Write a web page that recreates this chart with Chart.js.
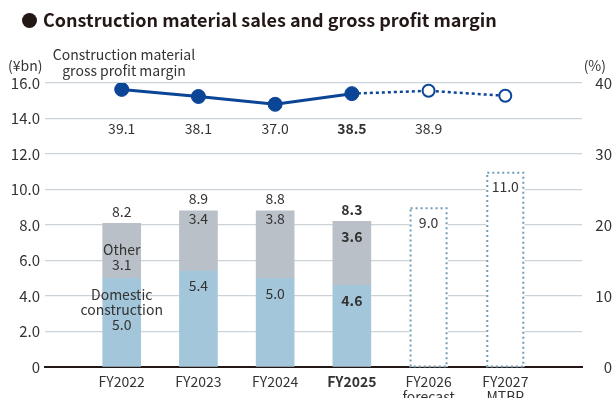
<!DOCTYPE html>
<html>
<head>
<meta charset="utf-8">
<script src="https://cdn.jsdelivr.net/npm/chart.js@4/dist/chart.umd.min.js"></script>
<style>
  html, body { margin: 0; padding: 0; background: #ffffff; }
  #wrap { width: 612px; height: 398px; position: relative; }
</style>
</head>
<body>
<div id="wrap"><canvas id="chart" width="612" height="398"></canvas></div>
<script>
// Fiscal years and their sub-captions
const categories = ['FY2022', 'FY2023', 'FY2024', 'FY2025', 'FY2026', 'FY2027'];
const categoryNotes = ['', '', '', '', 'forecast', 'MTBP'];

// Construction material sales (¥bn)
const domesticSales = [5.0, 5.4, 5.0, 4.6, null, null];
const otherSales = [3.1, 3.4, 3.8, 3.6, null, null];
const totalSales = [8.2, 8.9, 8.8, 8.3, null, null];
const plannedSales = [null, null, null, null, 9.0, 11.0];

// Construction material gross profit margin (%)
const grossMargin = [39.1, 38.1, 37.0, 38.5, 38.9, 38.2];
const marginLabels = ['39.1', '38.1', '37.0', '38.5', '38.9', ''];

// Axis ranges
const salesAxis = { min: 0, max: 16, step: 2 };
const marginAxis = { min: 0, max: 40, step: 10 };

// Latest actual year is emphasised
const latestActual = 3;
const firstPlanned = 4;

const FONT = '"Noto Sans CJK JP", "Noto Sans", sans-serif';
const TEXT = '#333333';
const LINE_BLUE = '#0a4596';
const DOMESTIC = '#a3c6da';
const OTHER = '#b9c0c7';
const PLAN_EDGE = '#6f9bb5';
const GRID = '#cbd2d8';

// The category axis has an empty slot at each end
const pad = arr => [null, ...arr, null];
const labels = ['', ...categories.map((c, i) => categoryNotes[i] ? [c, categoryNotes[i]] : c), ''];

const fontFor = (size, bold) => (bold ? 'bold ' : '') + size + 'px ' + FONT;

const chartText = {
  id: 'chartText',
  afterDraw(chart) {
    const ctx = chart.ctx;
    ctx.save();
    ctx.fillStyle = '#231815';
    // title bullet and heading
    ctx.beginPath();
    ctx.arc(29.5, 20.5, 7.5, 0, Math.PI * 2);
    ctx.fill();
    ctx.font = fontFor(18, true);
    ctx.textAlign = 'left';
    ctx.textBaseline = 'middle';
    ctx.fillText('Construction material sales and gross profit margin', 43, 20);

    ctx.fillStyle = TEXT;
    ctx.font = fontFor(14, false);
    ctx.fillText('(¥bn)', 8, 66);
    ctx.textAlign = 'right';
    ctx.fillText('(%)', 606, 66);
    ctx.textAlign = 'center';
    ctx.fillText('Construction material', 124, 55);
    ctx.fillText('gross profit margin', 124, 71);
    ctx.restore();
  }
};

const valueLabels = {
  id: 'valueLabels',
  afterDatasetsDraw(chart) {
    const ctx = chart.ctx;
    const dom = chart.getDatasetMeta(0).data;
    const oth = chart.getDatasetMeta(1).data;
    const plan = chart.getDatasetMeta(2).data;
    const line = chart.getDatasetMeta(3).data;
    ctx.save();
    ctx.fillStyle = TEXT;
    ctx.textAlign = 'center';
    ctx.textBaseline = 'middle';

    // dotted outline for planned bars
    ctx.strokeStyle = PLAN_EDGE;
    ctx.lineWidth = 2;
    ctx.setLineDash([2, 3]);
    categories.forEach((c, i) => {
      if (plannedSales[i] == null) return;
      const el = plan[i + 1];
      const half = el.width / 2;
      ctx.strokeRect(el.x - half + 1, el.y + 1, el.width - 2, el.base - el.y - 1);
    });
    ctx.setLineDash([]);

    // other-segment label offsets below the segment top
    const otherOffset = [0, 8, 8, 15];
    categories.forEach((c, i) => {
      const bold = i === latestActual;
      ctx.font = fontFor(14, bold);
      const idx = i + 1;
      // margin values in a row beneath the line
      if (marginLabels[i]) ctx.fillText(marginLabels[i], line[idx].x, 129);
      if (plannedSales[i] != null) {
        const el = plan[idx];
        ctx.fillText(plannedSales[i].toFixed(1), el.x, el.y + 15);
        return;
      }
      const d = dom[idx], o = oth[idx];
      ctx.fillText(totalSales[i].toFixed(1), o.x, o.y - 12);
      if (i === 0) {
        ctx.fillText('Other', o.x, o.y + 26);
        ctx.fillText(otherSales[i].toFixed(1), o.x, o.y + 41);
        ctx.fillText('Domestic', d.x, d.y + 16);
        ctx.fillText('construction', d.x, d.y + 31);
        ctx.fillText(domesticSales[i].toFixed(1), d.x, d.y + 46);
      } else {
        ctx.fillText(otherSales[i].toFixed(1), o.x, o.y + otherOffset[i]);
        ctx.fillText(domesticSales[i].toFixed(1), d.x, d.y + 15);
      }
    });
    ctx.restore();
  }
};

new Chart(document.getElementById('chart'), {
  data: {
    labels: labels,
    datasets: [
      {
        type: 'bar', label: 'Domestic construction', data: pad(domesticSales),
        backgroundColor: DOMESTIC, stack: 'sales', yAxisID: 'y', barThickness: 38, order: 2
      },
      {
        type: 'bar', label: 'Other', data: pad(otherSales),
        backgroundColor: OTHER, stack: 'sales', yAxisID: 'y', barThickness: 38, order: 2
      },
      {
        type: 'bar', label: 'Plan', data: pad(plannedSales),
        backgroundColor: '#ffffff', stack: 'sales', yAxisID: 'y', barThickness: 38, order: 2
      },
      {
        type: 'line', label: 'Gross profit margin', data: pad(grossMargin),
        yAxisID: 'y1', order: 1,
        borderColor: LINE_BLUE, borderWidth: 3, tension: 0,
        pointRadius: ctx => ctx.dataIndex >= firstPlanned + 1 ? 6 : 7,
        pointBorderWidth: ctx => ctx.dataIndex >= firstPlanned + 1 ? 2 : 1,
        pointBackgroundColor: ctx => ctx.dataIndex >= firstPlanned + 1 ? '#ffffff' : LINE_BLUE,
        pointBorderColor: LINE_BLUE,
        segment: {
          borderDash: ctx => ctx.p0DataIndex >= latestActual + 1 ? [3, 3] : undefined,
          borderWidth: ctx => ctx.p0DataIndex >= latestActual + 1 ? 2.5 : 3
        }
      }
    ]
  },
  options: {
    responsive: false,
    animation: false,
    events: [],
    layout: { padding: { top: 83, left: 0, right: 0, bottom: 0 } },
    plugins: { legend: { display: false }, tooltip: { enabled: false }, title: { display: false } },
    scales: {
      x: {
        stacked: true,
        offset: false,
        grid: { display: false, drawTicks: false },
        border: { display: true, color: '#231815', width: 2 },
        ticks: {
          autoSkip: false, maxRotation: 0, padding: 7, color: TEXT,
          font: ctx => ({ family: FONT, size: 14, weight: ctx.index === latestActual + 1 ? 'bold' : 'normal', lineHeight: 1.1 })
        },
        afterFit: s => { s.height = 31; }
      },
      y: {
        position: 'left', stacked: true,
        min: salesAxis.min, max: salesAxis.max,
        grid: { color: ctx => ctx.tick.value === 0 ? 'rgba(0,0,0,0)' : GRID, lineWidth: 1.2, drawTicks: false },
        border: { display: false },
        ticks: {
          stepSize: salesAxis.step, padding: 5, color: TEXT, font: { family: FONT, size: 15 },
          callback: v => v === 0 ? '0' : v.toFixed(1)
        },
        afterFit: s => { s.width = 45; }
      },
      y1: {
        position: 'right', stacked: false,
        min: marginAxis.min, max: marginAxis.max,
        grid: { drawOnChartArea: false, drawTicks: false },
        border: { display: false },
        ticks: {
          stepSize: marginAxis.step, padding: 6, color: TEXT, font: { family: FONT, size: 15 },
          crossAlign: 'far'
        },
        afterFit: s => { s.width = 30; }
      }
    }
  },
  plugins: [chartText, valueLabels]
});
</script>
</body>
</html>
